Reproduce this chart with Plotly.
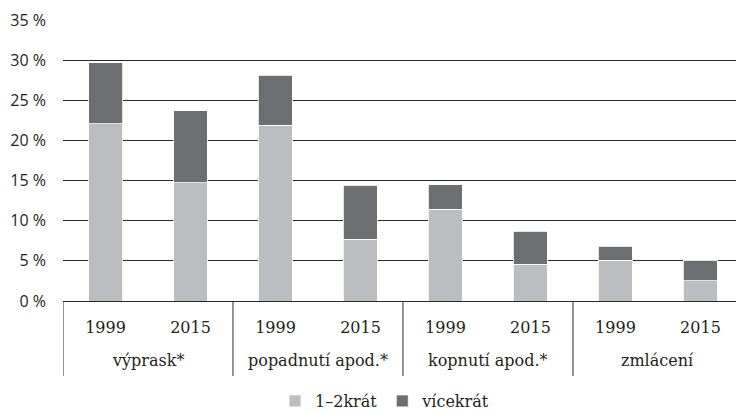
import plotly.graph_objects as go

groups = ["výprask*", "výprask*", "popadnutí apod.*", "popadnutí apod.*",
          "kopnutí apod.*", "kopnutí apod.*", "zmlácení", "zmlácení"]
years = ["1999", "2015", "1999", "2015", "1999", "2015", "1999", "2015"]
once_twice = [22.1, 14.7, 21.9, 7.7, 11.4, 4.6, 5.1, 2.5]
more_times = [7.6, 9.0, 6.2, 6.7, 3.1, 4.1, 1.7, 2.6]
y_tick_vals = [0, 5, 10, 15, 20, 25, 30, 35]
y_tick_text = ["0 %", "5 %", "10 %", "15 %", "20 %", "25 %", "30 %", "35 %"]

serif = "DejaVu Serif"
sans = "Open Sans"
ink = "#231f20"
line_col = "#2a2a2a"

pos = list(range(len(years)))

fig = go.Figure()
fig.add_trace(go.Bar(x=pos, y=once_twice, name="1–2krát",
                     marker=dict(color="#bcbdc0", line=dict(color="#ffffff", width=0.8)),
                     width=0.4))
fig.add_trace(go.Bar(x=pos, y=more_times, name="vícekrát",
                     marker=dict(color="#6d6e71", line=dict(color="#ffffff", width=0.8)),
                     width=0.4))

# group labels and dividers, placed through the x axis scale
unique_groups = []
for g in groups:
    if g not in unique_groups:
        unique_groups.append(g)

div_bottom = -0.267
shapes = []
annotations = []
for g in unique_groups:
    idx = [i for i, gg in enumerate(groups) if gg == g]
    centre = sum(idx) / len(idx)
    annotations.append(dict(x=centre, xref="x", y=-0.21, yref="paper",
                            text=g, showarrow=False, xanchor="center", yanchor="middle",
                            font=dict(family=serif, size=16, color=ink)))
    shapes.append(dict(type="line", xref="x", yref="paper",
                       x0=min(idx) - 0.5, x1=min(idx) - 0.5, y0=0, y1=div_bottom,
                       line=dict(color=line_col, width=1)))

fig.update_layout(
    width=736, height=412,
    margin=dict(l=63, r=0, t=20, b=111, autoexpand=False),
    barmode="stack",
    plot_bgcolor="white", paper_bgcolor="white",
    showlegend=True,
    legend=dict(orientation="h", x=0.4785, xanchor="center", y=-0.356, yanchor="middle",
                font=dict(family=serif, size=16, color=ink),
                itemwidth=30, traceorder="normal"),
    xaxis=dict(range=[-0.5, 7.418], tickvals=pos, ticktext=years,
               showline=True, linecolor=line_col, linewidth=1,
               showgrid=False, zeroline=False, ticks="", automargin=False,
               ticklabelstandoff=12,
               tickfont=dict(family=serif, size=16, color=ink)),
    yaxis=dict(range=[0, 35], tickvals=y_tick_vals, ticktext=y_tick_text,
               showgrid=True, gridcolor=line_col, gridwidth=1,
               zeroline=False, showline=False, ticks="", automargin=False,
               ticklabelstandoff=16,
               tickfont=dict(family=sans, size=16, color=ink)),
    shapes=shapes,
    annotations=annotations,
)

fig.write_html("out.html", config={"displayModeBar": False},
               post_script="document.body.style.margin='0';")
